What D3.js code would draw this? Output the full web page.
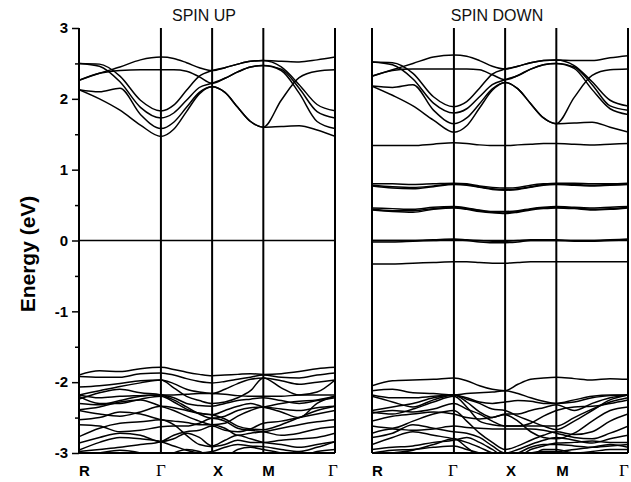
<!DOCTYPE html>
<html>
<head>
<meta charset="utf-8">
<style>body{margin:0;background:#fff}</style>
</head>
<body>
<svg width="631" height="482" font-family="'Liberation Sans', Arial, sans-serif"></svg>
<script src="https://d3js.org/d3.v7.min.js"></script>
<script>

// k path R - G - X - M - G, sample points
var kPts = [0, 0.4, 0.8, 1.2, 1.6, 1.85, 2.1, 2.35, 2.6, 2.85, 3.1, 3.35, 3.6, 3.95, 4.3, 4.65, 5.0];
var kNodes = [0, 1.6, 2.6, 3.6, 5.0];
var kLabels = ["R", "\u0393", "X", "M", "\u0393"];
var eTicks = [-3, -2, -1, 0, 1, 2, 3];
var eMinor = [-2.5, -1.5, -0.5, 0.5, 1.5, 2.5];

// spin up
var upConduction = [
  [2.26, 2.36, 2.45, 2.55, 2.59, 2.57, 2.51, 2.44, 2.40, 2.44, 2.49, 2.53, 2.54, 2.53, 2.52, 2.55, 2.59],
  [2.26, 2.36, 2.40, 2.41, 2.41, 2.41, 2.39, 2.31, 2.22, 2.29, 2.38, 2.45, 2.47, 2.42, 2.15, 1.82, 1.73],
  [2.50, 2.49, 2.32, 1.98, 1.83, 1.91, 2.12, 2.32, 2.40, 2.44, 2.49, 2.53, 2.54, 2.45, 2.20, 1.92, 1.83],
  [2.50, 2.46, 2.24, 1.88, 1.73, 1.80, 1.98, 2.16, 2.22, 2.29, 2.38, 2.45, 2.47, 2.40, 2.08, 1.68, 1.58],
  [2.13, 2.10, 2.15, 1.78, 1.58, 1.67, 1.88, 2.09, 2.17, 2.09, 1.88, 1.68, 1.60, 1.98, 2.30, 2.39, 2.41],
  [2.13, 2.00, 1.84, 1.63, 1.47, 1.57, 1.82, 2.07, 2.17, 2.09, 1.88, 1.68, 1.60, 1.61, 1.62, 1.56, 1.47]
];
var upValence = [
  [-1.90, -1.84, -1.85, -1.81, -1.79, -1.82, -1.86, -1.89, -1.91, -1.90, -1.89, -1.88, -1.89, -1.88, -1.85, -1.81, -1.79],
  [-1.92, -1.93, -1.93, -1.88, -1.87, -1.90, -1.95, -1.99, -2.01, -1.99, -1.96, -1.93, -1.90, -1.93, -1.94, -1.90, -1.87],
  [-2.07, -2.05, -2.02, -1.98, -1.97, -2.02, -2.10, -2.14, -2.16, -2.10, -2.02, -1.96, -1.94, -1.98, -2.03, -2.00, -1.97],
  [-2.18, -2.12, -2.06, -2.01, -1.97, -2.08, -2.20, -2.26, -2.30, -2.28, -2.22, -2.12, -1.94, -2.08, -2.18, -2.14, -1.97],
  [-2.18, -2.22, -2.20, -2.19, -2.18, -2.18, -2.17, -2.16, -2.16, -2.17, -2.19, -2.20, -2.20, -2.20, -2.18, -2.18, -2.18],
  [-2.20, -2.30, -2.30, -2.24, -2.20, -2.28, -2.38, -2.44, -2.46, -2.40, -2.34, -2.30, -2.35, -2.42, -2.50, -2.30, -2.20],
  [-2.24, -2.15, -2.10, -2.15, -2.18, -2.25, -2.35, -2.45, -2.51, -2.48, -2.40, -2.36, -2.35, -2.30, -2.27, -2.25, -2.20],
  [-2.30, -2.32, -2.26, -2.20, -2.18, -2.22, -2.30, -2.33, -2.34, -2.30, -2.26, -2.24, -2.22, -2.26, -2.30, -2.26, -2.22],
  [-2.39, -2.35, -2.28, -2.25, -2.34, -2.40, -2.48, -2.55, -2.60, -2.58, -2.48, -2.40, -2.35, -2.38, -2.40, -2.36, -2.34],
  [-2.40, -2.45, -2.48, -2.42, -2.34, -2.36, -2.40, -2.44, -2.46, -2.52, -2.62, -2.66, -2.67, -2.60, -2.50, -2.40, -2.34],
  [-2.53, -2.50, -2.42, -2.45, -2.53, -2.55, -2.57, -2.60, -2.60, -2.65, -2.75, -2.72, -2.70, -2.65, -2.60, -2.56, -2.53],
  [-2.60, -2.62, -2.70, -2.68, -2.63, -2.62, -2.62, -2.58, -2.51, -2.55, -2.65, -2.68, -2.70, -2.75, -2.72, -2.66, -2.63],
  [-2.77, -2.65, -2.58, -2.56, -2.53, -2.60, -2.75, -2.88, -2.91, -2.88, -2.82, -2.85, -2.85, -2.82, -2.80, -2.78, -2.72],
  [-2.86, -2.78, -2.72, -2.75, -2.84, -2.80, -2.72, -2.78, -2.90, -2.82, -2.75, -2.80, -2.85, -2.88, -2.92, -2.88, -2.84],
  [-2.96, -2.85, -2.78, -2.80, -2.84, -2.90, -2.96, -3.00, -2.98, -2.92, -2.88, -2.90, -2.91, -2.95, -2.98, -2.92, -2.84],
  [-2.98, -2.95, -2.92, -2.88, -2.84, -2.75, -2.70, -2.68, -2.62, -2.68, -2.70, -2.66, -2.58, -2.55, -2.50, -2.45, -2.40],
  [-3.05, -3.00, -2.96, -3.00, -3.10, -3.00, -2.95, -2.98, -3.05, -3.05, -2.95, -2.92, -2.95, -3.00, -3.05, -2.98, -2.95]
];

// spin down
var downConduction = [
  [2.32, 2.41, 2.50, 2.59, 2.62, 2.60, 2.54, 2.46, 2.42, 2.46, 2.51, 2.54, 2.55, 2.54, 2.54, 2.58, 2.61],
  [2.32, 2.40, 2.42, 2.42, 2.42, 2.42, 2.41, 2.34, 2.27, 2.33, 2.42, 2.48, 2.50, 2.45, 2.20, 1.90, 1.84],
  [2.52, 2.51, 2.36, 2.03, 1.89, 1.96, 2.15, 2.35, 2.42, 2.46, 2.51, 2.54, 2.55, 2.47, 2.24, 1.98, 1.90],
  [2.52, 2.48, 2.28, 1.94, 1.80, 1.86, 2.03, 2.20, 2.27, 2.33, 2.42, 2.48, 2.50, 2.43, 2.13, 1.86, 1.78],
  [2.18, 2.16, 2.20, 1.84, 1.65, 1.73, 1.93, 2.14, 2.23, 2.14, 1.93, 1.73, 1.65, 2.02, 2.33, 2.41, 2.42],
  [2.18, 2.05, 1.90, 1.70, 1.53, 1.62, 1.87, 2.12, 2.23, 2.14, 1.93, 1.73, 1.65, 1.66, 1.67, 1.60, 1.53]
];
var downFlat = [
  [1.34, 1.34, 1.34, 1.36, 1.38, 1.37, 1.35, 1.34, 1.34, 1.35, 1.36, 1.37, 1.37, 1.36, 1.35, 1.36, 1.37],
  [0.80, 0.80, 0.79, 0.80, 0.81, 0.80, 0.77, 0.75, 0.74, 0.75, 0.78, 0.80, 0.81, 0.81, 0.80, 0.80, 0.81],
  [0.78, 0.76, 0.75, 0.77, 0.80, 0.79, 0.76, 0.73, 0.72, 0.73, 0.76, 0.79, 0.80, 0.79, 0.78, 0.79, 0.80],
  [0.77, 0.74, 0.73, 0.76, 0.79, 0.78, 0.75, 0.72, 0.71, 0.72, 0.75, 0.78, 0.79, 0.78, 0.77, 0.78, 0.79],
  [0.46, 0.45, 0.44, 0.47, 0.48, 0.46, 0.43, 0.41, 0.41, 0.42, 0.45, 0.47, 0.48, 0.47, 0.46, 0.47, 0.48],
  [0.44, 0.42, 0.42, 0.45, 0.47, 0.45, 0.42, 0.40, 0.39, 0.41, 0.44, 0.46, 0.47, 0.46, 0.44, 0.45, 0.47],
  [0.43, 0.41, 0.40, 0.44, 0.46, 0.44, 0.41, 0.39, 0.38, 0.40, 0.43, 0.45, 0.46, 0.45, 0.43, 0.44, 0.46],
  [0.00, 0.00, 0.00, 0.01, 0.02, 0.01, 0.00, -0.01, -0.01, 0.00, 0.01, 0.01, 0.01, 0.00, 0.00, 0.01, 0.02],
  [-0.02, -0.02, -0.01, 0.00, 0.01, 0.00, -0.02, -0.03, -0.03, -0.02, 0.00, 0.00, 0.00, -0.01, -0.01, 0.00, 0.01],
  [-0.33, -0.33, -0.32, -0.31, -0.30, -0.30, -0.31, -0.32, -0.32, -0.31, -0.30, -0.30, -0.30, -0.30, -0.30, -0.30, -0.30]
];
var downValence = [
  [-2.05, -1.98, -1.97, -1.96, -1.94, -1.98, -2.05, -2.10, -2.12, -2.03, -1.96, -1.94, -1.93, -1.95, -1.97, -1.95, -1.96],
  [-2.12, -2.10, -2.15, -2.16, -2.18, -2.16, -2.15, -2.14, -2.12, -2.16, -2.22, -2.27, -2.30, -2.25, -2.20, -2.18, -2.18],
  [-2.18, -2.22, -2.22, -2.20, -2.18, -2.22, -2.28, -2.30, -2.28, -2.26, -2.27, -2.30, -2.30, -2.28, -2.22, -2.19, -2.18],
  [-2.20, -2.28, -2.35, -2.25, -2.18, -2.28, -2.42, -2.50, -2.45, -2.45, -2.40, -2.36, -2.32, -2.40, -2.30, -2.22, -2.18],
  [-2.40, -2.35, -2.30, -2.22, -2.18, -2.24, -2.30, -2.38, -2.40, -2.48, -2.55, -2.62, -2.67, -2.55, -2.40, -2.25, -2.18],
  [-2.42, -2.45, -2.38, -2.28, -2.20, -2.35, -2.55, -2.60, -2.62, -2.62, -2.62, -2.62, -2.62, -2.50, -2.38, -2.28, -2.22],
  [-2.44, -2.40, -2.42, -2.38, -2.30, -2.38, -2.45, -2.55, -2.62, -2.62, -2.58, -2.48, -2.40, -2.35, -2.34, -2.30, -2.25],
  [-2.55, -2.48, -2.45, -2.42, -2.45, -2.50, -2.52, -2.50, -2.46, -2.55, -2.70, -2.78, -2.80, -2.72, -2.55, -2.40, -2.35],
  [-2.62, -2.65, -2.55, -2.45, -2.40, -2.55, -2.72, -2.85, -2.95, -2.90, -2.82, -2.75, -2.70, -2.74, -2.70, -2.55, -2.45],
  [-2.72, -2.66, -2.68, -2.66, -2.62, -2.64, -2.65, -2.66, -2.66, -2.66, -2.66, -2.68, -2.72, -2.78, -2.80, -2.72, -2.62],
  [-2.78, -2.72, -2.60, -2.65, -2.70, -2.72, -2.78, -2.90, -3.00, -2.95, -2.88, -2.82, -2.78, -2.82, -2.86, -2.80, -2.75],
  [-2.88, -2.78, -2.70, -2.75, -2.80, -2.85, -2.92, -3.00, -3.05, -3.00, -2.92, -2.88, -2.88, -2.90, -2.92, -2.90, -2.88],
  [-2.95, -2.92, -2.90, -2.85, -2.82, -2.78, -2.85, -2.95, -3.05, -3.05, -2.95, -2.90, -2.86, -2.85, -2.83, -2.85, -2.85],
  [-3.00, -2.96, -2.95, -2.92, -2.90, -2.95, -3.00, -3.05, -3.10, -3.05, -3.00, -2.98, -2.98, -2.95, -2.92, -2.88, -2.92],
  [-3.05, -3.00, -2.96, -2.88, -2.80, -2.92, -3.05, -3.10, -3.10, -3.10, -3.05, -2.95, -2.95, -3.00, -2.98, -2.95, -2.95]
];

var svg = d3.select("svg");

var y = d3.scaleLinear().domain([-3, 3]).range([453, 28]);

var panels = [
  {id: "up", title: "SPIN UP", left: 79, right: 335, bands: upConduction.concat(upValence),
   labelDx: [0, 0, 1, -1, -2], labelAnchor: ["start", "middle", "start", "start", "middle"], axis: true},
  {id: "down", title: "SPIN DOWN", left: 372, right: 628, bands: downConduction.concat(downFlat, downValence),
   labelDx: [0, -1, 1, 0, -4], labelAnchor: ["start", "middle", "start", "start", "middle"], axis: false}
];

panels.forEach(function(p) {
  var x = d3.scaleLinear().domain([0, 5.0]).range([p.left, p.right]);
  var g = svg.append("g");

  g.append("clipPath").attr("id", "clip-" + p.id)
    .append("rect")
      .attr("x", p.left).attr("y", y(3))
      .attr("width", p.right - p.left).attr("height", y(-3) - y(3));

  var line = d3.line()
      .x(function(d, i) { return x(kPts[i]); })
      .y(function(d) { return y(d); })
      .curve(d3.curveMonotoneX);

  g.append("g").attr("clip-path", "url(#clip-" + p.id + ")")
    .selectAll("path")
    .data(p.bands)
    .enter().append("path")
      .attr("d", line)
      .attr("fill", "none")
      .attr("stroke", "#000")
      .attr("stroke-width", 1.5);

  // fermi level
  g.append("line")
      .attr("x1", p.left).attr("x2", p.right)
      .attr("y1", y(0)).attr("y2", y(0))
      .attr("stroke", "#000").attr("stroke-width", 1.5);

  // high symmetry lines
  g.selectAll(".kline")
    .data(kNodes)
    .enter().append("line")
      .attr("x1", function(d) { return x(d); })
      .attr("x2", function(d) { return x(d); })
      .attr("y1", y(3)).attr("y2", y(-3))
      .attr("stroke", "#000").attr("stroke-width", 2);

  // bottom frame
  g.append("line")
      .attr("x1", p.left).attr("x2", p.right)
      .attr("y1", y(-3)).attr("y2", y(-3))
      .attr("stroke", "#000").attr("stroke-width", 2);

  if (p.axis) {
    var ax = g.append("g")
        .attr("transform", "translate(" + p.left + ",0)")
        .call(d3.axisLeft(y).tickValues(eTicks).tickSize(7).tickPadding(4).tickFormat(d3.format("d")));
    ax.select(".domain").remove();
    ax.selectAll(".tick line").attr("stroke-width", 1.5);
    ax.selectAll("text")
        .attr("font-family", "'Liberation Sans', Arial, sans-serif")
        .attr("font-size", 15).attr("font-weight", "bold").attr("fill", "#000")
        .text(function(d) { return d < 0 ? "-" + (-d) : d; });
    g.append("g")
        .attr("transform", "translate(" + p.left + ",0)")
        .call(d3.axisLeft(y).tickValues(eMinor).tickSize(4).tickFormat(""))
        .call(function(s) { s.select(".domain").remove(); s.selectAll("line").attr("stroke-width", 1.5); });
  }

  // k labels
  g.selectAll(".klabel")
    .data(kNodes)
    .enter().append("text")
      .attr("x", function(d, i) { return x(d) + p.labelDx[i]; })
      .attr("y", 476)
      .attr("text-anchor", function(d, i) { return p.labelAnchor[i]; })
      .attr("font-family", function(d, i) { return kLabels[i] === "\u0393" ? "'Liberation Serif', 'Times New Roman', serif" : "'Liberation Sans', Arial, sans-serif"; })
      .attr("font-weight", function(d, i) { return kLabels[i] === "\u0393" ? "normal" : "bold"; })
      .attr("font-size", function(d, i) { return kLabels[i] === "\u0393" ? 17 : 15; })
      .text(function(d, i) { return kLabels[i]; });

  g.append("text")
      .attr("x", (p.left + p.right) / 2 - 3)
      .attr("y", 21)
      .attr("text-anchor", "middle")
      .attr("font-size", 16)
      .attr("fill", "#111")
      .text(p.title);
});

svg.append("text")
    .attr("transform", "translate(35,254) rotate(-90)")
    .attr("text-anchor", "middle")
    .attr("font-size", 21)
    .attr("font-weight", "bold")
    .text("Energy (eV)");

</script>
</body>
</html>
